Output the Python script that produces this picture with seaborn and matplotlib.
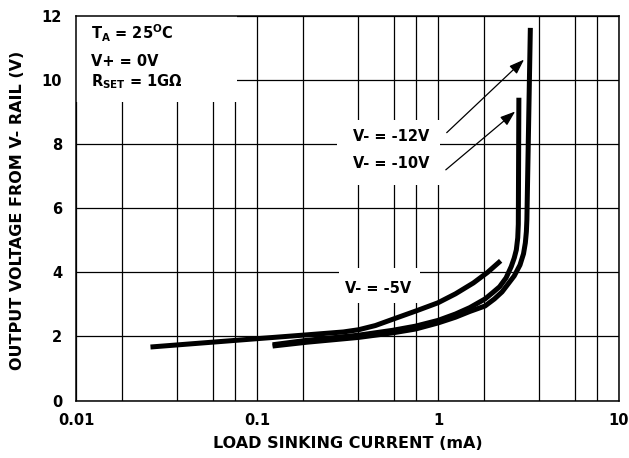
import numpy as np
import pandas as pd
import matplotlib
matplotlib.use("Agg")
import matplotlib.pyplot as plt
from matplotlib.patches import Rectangle
from matplotlib.ticker import NullFormatter
import seaborn as sns

# load sinking current (mA) vs output voltage from V- rail (V)
cur_5v = [0.0258, 0.1, 0.189, 0.30, 0.365, 0.451, 0.578, 0.76, 1.0, 1.25, 1.57, 1.88, 2.22]
volt_5v = [1.67, 1.93, 2.05, 2.14, 2.21, 2.34, 2.56, 2.8, 3.05, 3.33, 3.67, 4.0, 4.36]

cur_10v = [0.122, 0.189, 0.365, 0.56, 0.75, 1.0, 1.25, 1.5, 1.82, 2.0, 2.19, 2.38, 2.54,
           2.64, 2.71, 2.76, 2.78, 2.80]
volt_10v = [1.74, 1.88, 2.04, 2.19, 2.32, 2.5, 2.7, 2.9, 3.17, 3.36, 3.55, 3.83, 4.18,
            4.45, 4.7, 5.08, 5.5, 9.45]

cur_12v = [0.122, 0.189, 0.365, 0.56, 0.75, 1.0, 1.25, 1.5, 1.82, 2.05, 2.26, 2.42, 2.64,
           2.84, 2.97, 3.04, 3.08, 3.1, 3.24]
volt_12v = [1.70, 1.82, 1.97, 2.11, 2.23, 2.42, 2.6, 2.78, 2.95, 3.17, 3.39, 3.61, 3.89,
            4.23, 4.58, 4.92, 5.27, 5.64, 11.63]

x_ticks = [0.01, 0.1, 1, 10]
x_ticklabels = ['0.01', '0.1', '1', '10']
y_ticks = [0, 2, 4, 6, 8, 10, 12]
grid_mult = [1.8, 3.6, 5.7, 7.6]  # odd minor grid spacing used in the original chart

df = pd.concat([
    pd.DataFrame({'current': cur_5v, 'voltage': volt_5v, 'supply': '-5V'}),
    pd.DataFrame({'current': cur_10v, 'voltage': volt_10v, 'supply': '-10V'}),
    pd.DataFrame({'current': cur_12v, 'voltage': volt_12v, 'supply': '-12V'}),
])

sns.set_style('white')
plt.rcParams['font.family'] = ['DejaVu Sans']
plt.rcParams['font.weight'] = 'bold'
plt.rcParams['axes.labelweight'] = 'bold'
plt.rcParams['mathtext.default'] = 'bf'
plt.rcParams['text.color'] = 'black'
plt.rcParams['axes.labelcolor'] = 'black'
plt.rcParams['xtick.color'] = 'black'
plt.rcParams['ytick.color'] = 'black'

fig = plt.figure(figsize=(6.29, 4.58), dpi=100)
ax = fig.add_axes([0.1208, 0.1255, 0.8632, 0.8395])

for s in ['-5V', '-10V', '-12V']:
    sns.lineplot(data=df[df['supply'] == s], x='current', y='voltage', sort=False,
                 estimator=None, color='black', lw=3.6, ax=ax, zorder=3,
                 solid_capstyle='butt', solid_joinstyle='round')

ax.set_xscale('log')
ax.set_xlim(0.01, 10)
ax.set_ylim(0, 12)
ax.set_xticks(x_ticks)
ax.set_xticklabels(x_ticklabels)
minor = [m * d for d in [0.01, 0.1, 1] for m in grid_mult]
ax.set_xticks(minor, minor=True)
ax.xaxis.set_minor_formatter(NullFormatter())
ax.set_yticks(y_ticks)
ax.set_yticklabels([str(v) for v in y_ticks])
ax.tick_params(axis='both', which='both', length=0, labelsize=10.5, colors='black')
ax.tick_params(axis='x', pad=9)
ax.tick_params(axis='y', pad=10)

ax.set_axisbelow(True)
ax.grid(True, which='both', axis='x', color='black', lw=0.9)
ax.grid(True, which='major', axis='y', color='black', lw=0.9)
for sp in ax.spines.values():
    sp.set_color('black')
    sp.set_linewidth(1.1)

ax.set_xlabel('LOAD SINKING CURRENT (mA)', fontsize=11.5)
ax.set_ylabel('OUTPUT VOLTAGE FROM V- RAIL (V)', fontsize=11.5)
ax.xaxis.set_label_coords(0.5, -0.0924)
ax.yaxis.set_label_coords(-0.094, 0.4935)

# white boxes behind the annotations (they hide the grid)
for (x0, y0, w, h) in [(0.0, 0.776, 0.2965, 0.224),
                       (0.4807, 0.561, 0.1896, 0.1695),
                       (0.4843, 0.254, 0.1492, 0.090)]:
    ax.add_patch(Rectangle((x0, y0), w, h, transform=ax.transAxes,
                           facecolor='white', edgecolor='none', zorder=1))

ax.text(0.0276, 0.9388, 'T$_A$ = 25$^O$C', transform=ax.transAxes, fontsize=10.5,
        va='baseline', zorder=4)
ax.text(0.0276, 0.871, 'V+ = 0V', transform=ax.transAxes, fontsize=10.5,
        va='baseline', zorder=4)
ax.text(0.0276, 0.8164, 'R$_{SET}$ = 1G\u03a9', transform=ax.transAxes, fontsize=10.5,
        va='baseline', zorder=4)

ax.text(0.510, 0.6758, 'V- = -12V', transform=ax.transAxes, fontsize=10.5,
        va='baseline', zorder=4)
ax.text(0.510, 0.6055, 'V- = -10V', transform=ax.transAxes, fontsize=10.5,
        va='baseline', zorder=4)
ax.text(0.4954, 0.28, 'V- = -5V', transform=ax.transAxes, fontsize=10.5,
        va='baseline', zorder=4)

arrow = dict(arrowstyle='-|>,head_length=0.7,head_width=0.25', color='black',
             lw=0.9, mutation_scale=13, shrinkA=0, shrinkB=0)
ax.annotate('', xy=(2.99, 10.64), xytext=(1.118, 8.36), arrowprops=arrow, zorder=4)
ax.annotate('', xy=(2.67, 9.02), xytext=(1.105, 7.2), arrowprops=arrow, zorder=4)

fig.savefig('out.png', dpi=100)
